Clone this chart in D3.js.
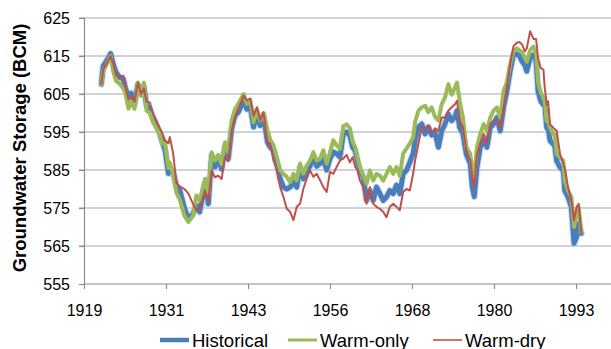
<!DOCTYPE html>
<html><head><meta charset="utf-8">
<script src="https://cdn.jsdelivr.net/npm/d3@7"></script>
<style>html,body{margin:0;padding:0;background:#fff;}svg{display:block;font-family:"Liberation Sans",Arial,Helvetica,sans-serif;}</style>
</head><body>
<script>
const years = [1921.6,1921.9,1922.4,1923.0,1923.4,1923.8,1924.4,1924.9,1925.2,1925.7,1926.1,1926.6,1927.1,1927.6,1928.0,1928.4,1928.9,1929.4,1929.9,1930.4,1930.7,1931.2,1931.7,1931.9,1932.4,1932.9,1933.4,1934.1,1934.7,1935.4,1935.9,1936.4,1937.2,1937.7,1938.2,1938.7,1939.2,1939.7,1940.2,1940.7,1941.2,1941.7,1942.2,1943.0,1943.5,1944.0,1944.5,1945.0,1945.5,1946.0,1946.6,1947.0,1947.5,1948.0,1948.5,1949.0,1949.5,1950.0,1950.5,1951.0,1951.5,1952.0,1952.5,1953.0,1953.5,1954.0,1954.5,1955.0,1955.5,1956.0,1956.5,1957.0,1957.5,1958.0,1958.5,1959.0,1959.4,1959.8,1960.1,1960.5,1961.0,1961.5,1962.0,1962.5,1963.0,1963.5,1964.0,1964.5,1965.0,1965.5,1966.0,1966.5,1967.0,1967.5,1968.0,1968.5,1968.8,1969.3,1969.8,1970.3,1970.8,1971.3,1971.8,1972.3,1972.8,1973.3,1973.8,1974.3,1974.8,1975.1,1975.5,1976.0,1976.5,1977.1,1977.4,1977.7,1978.1,1978.6,1979.1,1979.6,1980.1,1980.6,1981.1,1981.6,1982.1,1982.6,1983.1,1983.6,1984.1,1984.5,1984.9,1985.3,1985.6,1986.1,1986.6,1987.0,1987.3,1987.7,1988.1,1988.3,1988.6,1988.8,1989.1,1989.6,1989.8,1990.1,1990.6,1991.1,1991.3,1991.8,1992.3,1992.7,1993.1,1993.4,1993.8];
const historical = [607.6,612.4,613.7,615.6,612.8,610.7,609.3,609,606.7,604.1,605.2,602.4,607.5,605,607,602,601,598.5,596.7,594.6,592.8,590.2,584.1,585.5,584.5,580.7,579.8,575,572,573.5,575.7,574,581.4,576.1,588.8,585.8,588,585.3,591,588,595.8,599.3,600.2,603.3,601,601.9,596.3,599.8,596.7,599.3,592.3,591,590.2,586.7,582.7,580.5,580,580.5,581.8,580.5,585.8,582.7,584.9,586,588.4,586,586.7,588,585,588,589.7,589.3,588.4,594.5,595,594,591,590.1,587.5,584.9,583.1,577,579.6,577,580.5,578.8,577,577.9,579.6,578.8,581,578.8,584,584.9,587,589.3,592.8,596.3,597.1,594.5,596.3,594.2,594.8,591,595.3,597.1,599.7,598,599,600.6,596.2,594.5,589.2,586.6,580.5,578,585.7,591,592.7,591,596.2,597.1,598.8,595.3,601.5,605.8,611.1,615.4,615.5,615,613.5,612.7,611,614.5,615.3,613.5,605.7,603.1,602.2,602.2,596.1,596.1,592.7,591.8,591.4,587.4,585.7,584.8,579.6,577.9,575.3,565.7,567.4,570.9,568.3];
const warmOnly = [607.6,611,612.8,615,611,608.5,607.6,606.5,605.4,601.1,603,601.1,608,604.5,608,600.6,600,597.5,596,594.5,591.9,592,585.5,587,584,579,577.2,573,571.3,573,578.3,577,582.7,578.5,589.7,587.5,589,586.5,592.3,589.7,598,601,602.4,605,602.4,603.5,597.6,601,598,600,595.4,593,591.5,588.4,585,584,583.2,581.8,584,582.3,586.7,584,586.2,587.5,589.7,587.5,588,590.2,586.7,589.7,592.8,591.5,590.6,596.5,597,596,592.5,591,588.5,585.8,583.5,581.4,584.9,582.2,584,583.5,582.2,584,585.8,584,585.8,583.5,589.3,590.6,592,593.6,597.6,600.6,601.5,601.9,600.2,601.5,599,598,602.3,604.1,607.6,604.8,606.7,608,603.2,598.8,591,589.2,584.9,583,591,594.5,597.1,595.3,598.8,600.6,601.5,598.8,605.8,608,612.8,616.3,617,616.5,616,614.6,613.5,616.5,617.5,615.5,608,605.4,603.9,603,597.8,597.8,596.1,594.4,594.4,589.2,588.3,587.4,582.2,579.6,577.9,570,573.5,575.3,568.5];
const warmDry = [607.6,611.5,613,615,613,610,609.5,609.8,607,603.5,604.5,603,608,605,606.5,603,602.8,599.8,598,596,595,592.8,592,593.7,589.5,581.5,580.7,580,578.8,576.1,574.4,574.8,579.6,577,584.9,583.1,583.5,582.6,588.4,587.3,595.4,599,601,604.6,603.3,603.8,599.3,601.5,598,600.2,591.9,592,587.5,585,580.5,577.9,574.8,574,571.8,575.3,576.1,580.1,582.7,584.9,583.2,584,582.3,580.5,579.2,584.5,584,585.8,587.5,588,589,587,588.4,585.8,585,582.2,580.5,576.1,580.5,576.1,575.3,574.8,574,572.6,575.3,576.1,575.3,574.4,579.2,580,579.6,584,587.5,591.9,596.3,595.9,596.7,594.6,596,595.3,598.8,598.8,600.6,601.5,602.3,603.2,598,596.2,590.1,587.5,583.1,580.5,589,592,594.5,592,597.1,598,598,596.2,601.5,606.7,612.8,617.6,618.5,618.7,618,616.3,617,621.5,619.5,619.5,614.4,611.8,611.4,606.6,602.2,603.1,597,596.1,595.7,595.3,589.2,586.6,585.7,580.5,577,571.8,575.3,576.1,568.3];
const yTicks = [555,565,575,585,595,605,615,625];
const xTickLabels = ["1919","1931","1943","1956","1968","1980","1993"];
const seriesNames = ["Historical","Warm-only","Warm-dry"];
const colors = ["#4a7ebb","#9bbb59","#c0504d"];
const widths = [5,4,2];

(function(){
const W = 611, H = 349;
const svg = d3.select("body").append("svg").attr("width", W).attr("height", H);
const pL = 84, pR = 611, pT = 18, pB = 284;
const step = 148/12;
const x = d3.scaleLinear().domain([1919, 1919 + 6*step]).range([pL, 576]);
const y = d3.scaleLinear().domain([555, 625]).range([pB, pT]);

svg.append("g").selectAll("line").data(yTicks.slice(1)).join("line")
  .attr("x1", pL - 5).attr("x2", pR).attr("y1", d => y(d)).attr("y2", d => y(d))
  .attr("stroke", "#a6a6a6").attr("stroke-width", 1.2);

const yAxis = d3.axisLeft(y).tickValues(yTicks).tickSize(5).tickPadding(9).tickFormat(d3.format("d"));
const gy = svg.append("g").attr("transform", `translate(${pL},0)`).call(yAxis);
gy.select(".domain").attr("stroke", "#8c8c8c").attr("stroke-width", 1.2);
gy.selectAll(".tick line").attr("stroke", "#8c8c8c").attr("stroke-width", 1.2);
gy.selectAll("text").attr("font-size", 16).attr("fill", "#000").attr("font-family", "Liberation Sans, Arial, sans-serif");

const xTickVals = xTickLabels.map((d, i) => 1919 + i*step);
const xAxis = d3.axisBottom(x).tickValues(xTickVals).tickSize(5).tickPadding(16)
  .tickFormat((d, i) => xTickLabels[i]);
const gx = svg.append("g").attr("transform", `translate(0,${pB})`).call(xAxis);
gx.select(".domain").remove();
gx.append("line").attr("x1", pL).attr("x2", pR).attr("y1", 0).attr("y2", 0)
  .attr("stroke", "#8c8c8c").attr("stroke-width", 1.2);
gx.selectAll(".tick line").attr("stroke", "#8c8c8c").attr("stroke-width", 1.2);
gx.selectAll("text").attr("font-size", 16).attr("fill", "#000").attr("font-family", "Liberation Sans, Arial, sans-serif");

svg.append("text").attr("transform", "translate(26,148) rotate(-90)")
  .attr("text-anchor", "middle").attr("font-size", 18.5).attr("font-weight", "bold")
  .text("Groundwater Storage (BCM)");

const series = [historical, warmOnly, warmDry];
const line = d3.line().x((d, i) => x(years[i])).y(d => y(d));
// soft halo under the historical line
svg.append("path").datum(historical).attr("d", line).attr("fill", "none")
  .attr("stroke", "#a9c3e6").attr("stroke-width", 7).attr("stroke-opacity", 0.6)
  .attr("stroke-linejoin", "round").attr("stroke-linecap", "round");
series.forEach((s, k) => {
  svg.append("path").datum(s).attr("d", line).attr("fill", "none")
    .attr("stroke", colors[k]).attr("stroke-width", widths[k])
    .attr("stroke-linejoin", "round").attr("stroke-linecap", "round");
});

const legX = [160, 288, 433];
const legW = [4.5, 3, 1.6];
seriesNames.forEach((n, k) => {
  const g = svg.append("g").attr("transform", `translate(${legX[k]},340)`);
  g.append("line").attr("x1", 0).attr("x2", 29).attr("stroke", colors[k]).attr("stroke-width", legW[k]);
  g.append("text").attr("x", 32).attr("y", 6.5).attr("font-size", 18.5).text(n);
});
})();
</script>
</body></html>
